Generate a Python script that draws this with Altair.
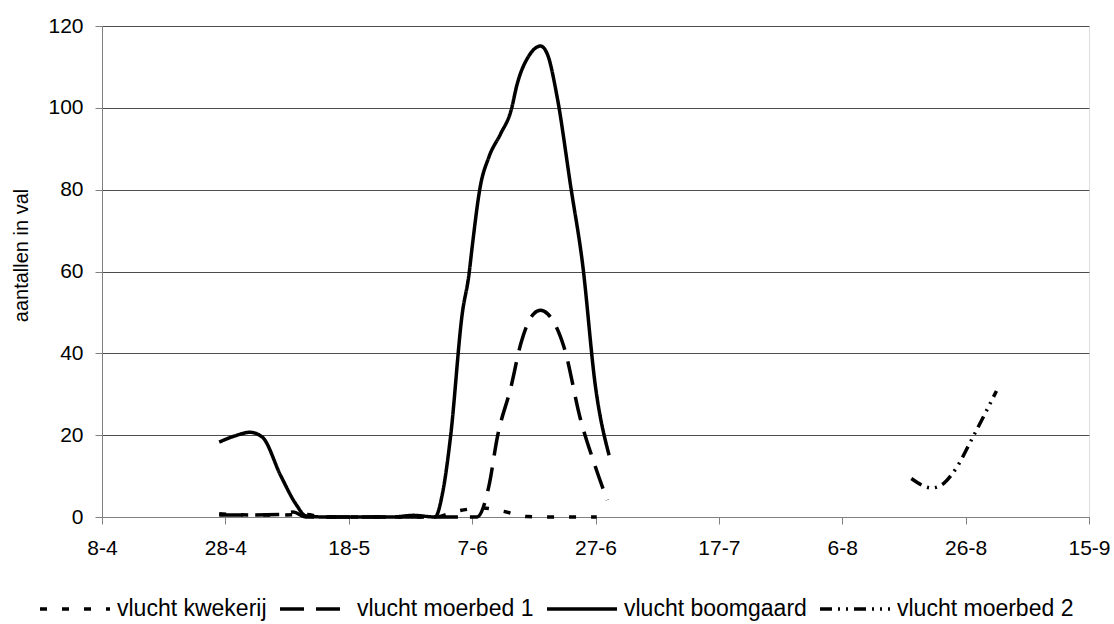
import altair as alt
import pandas as pd

# ---- data (x = days after 8-4) ----
series_names = ["vlucht kwekerij", "vlucht moerbed 1", "vlucht boomgaard", "vlucht moerbed 2"]
tick_days = [0, 20, 40, 60, 80, 100, 120, 140, 160]
tick_labels = ["8-4", "28-4", "18-5", "7-6", "27-6", "17-7", "6-8", "26-8", "15-9"]
y_ticks = [0, 20, 40, 60, 80, 100, 120]

kwekerij_day = [19, 24, 29, 33, 36, 47, 54, 57.5, 61.8, 65, 69, 73, 76, 80.2]
kwekerij_val = [0.8, 0.5, 0.5, 0.6, 0, 0, 0, 1.4, 2.2, 1.4, 0.1, 0, 0, 0]

moerbed1_day = [19, 24, 29, 31, 33, 36, 47, 54, 60.8, 62.7, 64.1, 66.3, 67.9, 70, 71.1, 72.2, 74.9, 77.6, 79.8, 81.9]
moerbed1_val = [0.5, 0.5, 0.6, 1.2, 0, 0, 0, 0, 0, 7.4, 19.6, 31.8, 42.4, 49.7, 50.5, 49.7, 41.5, 23.7, 13.1, 4.1]

boomgaard_day = [19, 21.5, 24, 26, 29, 31.5, 33, 36, 40, 47, 50.5, 54, 55.2, 56.5, 58.4, 59.5, 60, 61.3, 62.7,
                 64.6, 66.3, 67.3, 69.2, 71.1, 72.2, 73.8, 76, 77.9, 80, 82.2]
boomgaard_val = [18.3, 19.8, 20.7, 19.5, 10, 3, 0.3, 0, 0, 0, 0.4, 0, 5.8, 19.6, 49.7, 59.4, 65.9, 80.6, 87.9,
                 93.6, 99.3, 105.8, 112.7, 115.1, 113.1, 102.5, 80.6, 61.9, 31.8, 15.1]

moerbed2_day = [131.2, 134.5, 136.5, 138.5, 141, 145]
moerbed2_val = [9.4, 7.1, 8.3, 12, 19, 30.8]

dash_styles = [[7, 15], [24, 12], [1, 0], [12, 6, 2, 6, 2, 6]]
stroke_widths = [3.5, 3.5, 3.5, 1.2]

rows = []
for name, days, vals in zip(series_names,
                            [kwekerij_day, moerbed1_day, boomgaard_day, moerbed2_day],
                            [kwekerij_val, moerbed1_val, boomgaard_val, moerbed2_val]):
    for d, v in zip(days, vals):
        rows.append({"series": name, "day": d, "value": v})
df = pd.DataFrame(rows)

font = "Liberation Sans"
label_js = "[" + ",".join("'" + t + "'" for t in tick_labels) + "]"

legend = alt.Legend(
    title=None, orient="none", legendX=-64, legendY=571, direction="horizontal",
    symbolType="M-1,0H6", symbolSize=400, symbolStrokeColor="black", symbolStrokeWidth=3.5,
    labelFont=font, labelFontSize=23, labelColor="black", labelLimit=500,
    labelOffset=55, columnPadding=6, padding=0,
)

chart = alt.Chart(df).mark_line(interpolate="monotone", color="black", strokeCap="butt").encode(
    x=alt.X("day:Q", scale=alt.Scale(domain=[0, 160], nice=False, zero=False),
            axis=alt.Axis(title=None, values=tick_days, grid=False,
                          labelExpr=label_js + "[round(datum.value/20)]",
                          labelFont=font, labelFontSize=21, labelColor="black",
                          labelPadding=13, tickSize=7, tickColor="#808080",
                          domainColor="#808080", labelFlush=False)),
    y=alt.Y("value:Q", scale=alt.Scale(domain=[0, 120], nice=False),
            axis=alt.Axis(title="aantallen in val", values=y_ticks, grid=True, gridColor="#4d4d4d",
                          gridWidth=1, labelFont=font, labelFontSize=21, labelColor="black",
                          labelPadding=12, tickSize=7, tickColor="#808080", domainColor="#808080",
                          titleFont=font, titleFontSize=20, titleFontWeight="normal", titleColor="black",
                          titleAngle=270, titleX=-81, titleY=229, titleAlign="center",
                          titleBaseline="middle")),
    strokeDash=alt.StrokeDash("series:N", scale=alt.Scale(domain=series_names, range=dash_styles),
                              legend=legend),
    strokeWidth=alt.StrokeWidth("series:N", scale=alt.Scale(domain=series_names, range=stroke_widths),
                                legend=legend),
).properties(
    width=987, height=491,
    autosize=alt.AutoSizeParams(type="none"),
    padding={"left": 102, "top": 26, "right": 25, "bottom": 107},
).configure_view(stroke=None).configure(background="white")

chart.save("out.html", embed_options={"renderer": "svg", "actions": False})
